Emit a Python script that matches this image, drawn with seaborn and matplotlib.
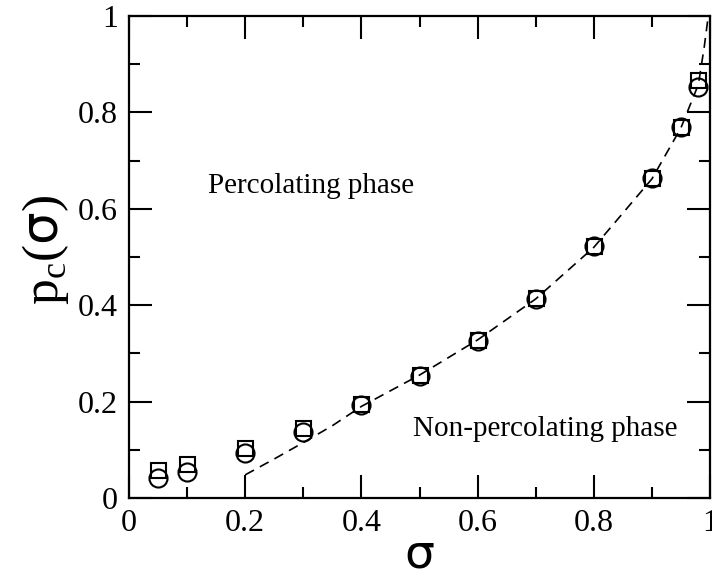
import numpy as np
import pandas as pd
import matplotlib
matplotlib.use("Agg")
import matplotlib.pyplot as plt
import seaborn as sns
from matplotlib.ticker import MultipleLocator, FuncFormatter

# data
sigma = [0.05, 0.1, 0.2, 0.3, 0.4, 0.5, 0.6, 0.7, 0.8, 0.9, 0.95, 0.98]
pc_squares = [0.058, 0.070, 0.104, 0.146, 0.195, 0.256, 0.328, 0.414, 0.523, 0.664, 0.770, 0.867]
pc_circles = [0.041, 0.054, 0.093, 0.137, 0.193, 0.254, 0.326, 0.413, 0.522, 0.663, 0.769, 0.852]

fit_sigma = [0.2, 0.25, 0.3, 0.35, 0.4, 0.5, 0.6, 0.7, 0.8, 0.9, 0.95, 0.98, 0.99, 0.997]
fit_pc = [0.048, 0.081, 0.115, 0.150, 0.190, 0.255, 0.328, 0.413, 0.520, 0.662, 0.768, 0.858, 0.935, 1.0]

label_upper = "Percolating phase"
label_lower = "Non-percolating phase"

sns.set_style("ticks")
plt.rcParams['font.family'] = ['Liberation Serif', 'DejaVu Sans']
plt.rcParams['mathtext.fontset'] = 'custom'
plt.rcParams['mathtext.rm'] = 'Liberation Serif'
plt.rcParams['mathtext.it'] = 'DejaVu Sans'
plt.rcParams['text.color'] = 'black'
plt.rcParams['axes.labelcolor'] = 'black'

fig = plt.figure(figsize=(7.12, 5.77), dpi=100)
ax = fig.add_axes([129 / 712, 1 - 498 / 577, 581 / 712, 482 / 577])

df_sq = pd.DataFrame({'sigma': sigma, 'pc': pc_squares})
df_ci = pd.DataFrame({'sigma': sigma, 'pc': pc_circles})
df_fit = pd.DataFrame({'sigma': fit_sigma, 'pc': fit_pc})

# dashed fit curve
sns.lineplot(data=df_fit, x='sigma', y='pc', ax=ax, color='black', lw=1.2,
             linestyle=(0, (6, 4)))
# two data sets, open symbols
sns.lineplot(data=df_sq, x='sigma', y='pc', ax=ax, linestyle='', marker='s',
             markersize=10.8, markerfacecolor='none', markeredgecolor='black',
             markeredgewidth=1.5, color='black')
sns.lineplot(data=df_ci, x='sigma', y='pc', ax=ax, linestyle='', marker='o',
             markersize=13, markerfacecolor='none', markeredgecolor='black',
             markeredgewidth=1.5, color='black')

ax.set_xlim(0, 1)
ax.set_ylim(0, 1)
ax.xaxis.set_major_locator(MultipleLocator(0.2))
ax.xaxis.set_minor_locator(MultipleLocator(0.1))
ax.yaxis.set_major_locator(MultipleLocator(0.2))
ax.yaxis.set_minor_locator(MultipleLocator(0.1))
fmt = FuncFormatter(lambda v, p: f"{v:g}")
ax.xaxis.set_major_formatter(fmt)
ax.yaxis.set_major_formatter(fmt)

ax.tick_params(which='both', direction='in', top=True, right=True, width=1.5,
               labelsize=23, colors='black')
ax.tick_params(which='major', length=16.5, pad=8)
ax.tick_params(which='minor', length=8)
for sp in ax.spines.values():
    sp.set_linewidth(1.6)
    sp.set_color('black')

ax.set_xlabel("σ", fontsize=34, family='DejaVu Sans', labelpad=-4)
ax.set_ylabel(r"$\mathrm{p}_\mathrm{c}(\sigma)$", fontsize=37)
ax.yaxis.set_label_coords(-0.10, 0.515)

ax.text(0.136, 0.633, label_upper, fontsize=21, va='baseline', ha='left', color='black')
ax.text(0.489, 0.129, label_lower, fontsize=21, va='baseline', ha='left', color='black')

fig.savefig("out.png", dpi=100)
